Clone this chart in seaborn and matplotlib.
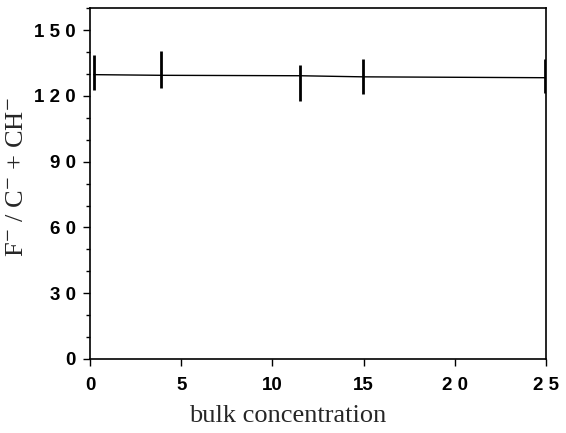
import numpy as np
import pandas as pd
import seaborn as sns
import matplotlib.pyplot as plt
from matplotlib.ticker import MultipleLocator

# values
conc = [0.2, 3.9, 11.5, 14.95, 24.95]
ratio = [129.7, 129.4, 129.2, 128.7, 128.3]
err_low = [6.9, 5.7, 11.5, 7.9, 6.9]
err_high = [8.8, 11.0, 4.8, 8.3, 8.7]

x_ticks = [0, 5, 10, 15, 20, 25]
x_labels = ["0", "5", "10", "15", "2 0", "2 5"]
y_ticks = [0, 30, 60, 90, 120, 150]
y_labels = ["0", "3 0", "6 0", "9 0", "1 2 0", "1 5 0"]


def set_config():
    sns.set_theme(style="ticks")
    plt.rcParams["font.family"] = ["Liberation Serif", "DejaVu Serif"]
    plt.rcParams["mathtext.fontset"] = "stix"
    plt.rcParams["text.color"] = "black"
    plt.rcParams["xtick.color"] = "black"
    plt.rcParams["ytick.color"] = "black"


def show_ratio_graph():
    df = pd.DataFrame({"conc": conc, "ratio": ratio})

    fig = plt.figure(figsize=(5.66, 4.33), dpi=100)
    ax = fig.add_axes([0.159, 0.171, 0.806, 0.81])

    sns.lineplot(x="conc", y="ratio", data=df, ax=ax, color="black", linewidth=1.0)
    ax.errorbar(conc, ratio, yerr=[err_low, err_high], fmt="none",
                ecolor="black", elinewidth=2.0, capsize=0)

    ax.set_xlim(0, 25)
    ax.set_ylim(0, 160)
    ax.set_xticks(x_ticks)
    ax.set_yticks(y_ticks)
    ax.yaxis.set_minor_locator(MultipleLocator(10))
    ax.set_xticklabels(x_labels, family="Liberation Sans",
                       fontweight="bold", fontsize=13.5)
    ax.set_yticklabels(y_labels, family="Liberation Sans",
                       fontweight="bold", fontsize=13.5)
    ax.tick_params(axis="both", which="major", length=5, width=1)
    ax.tick_params(axis="x", which="major", pad=8)
    ax.tick_params(axis="y", which="major", pad=5)
    ax.tick_params(axis="y", which="minor", length=3, width=1)

    for s in ax.spines.values():
        s.set_color("black")
        s.set_linewidth(1.2)

    ax.set_xlabel("bulk concentration", fontsize=19)
    ax.xaxis.set_label_coords(0.434, -0.13)
    ax.set_ylabel("F$^{-}$ / C$^{-}$ + CH$^{-}$", fontsize=19)
    ax.yaxis.set_label_coords(-0.136, 0.52)

    fig.savefig("out.png", dpi=100)


def main():
    set_config()
    show_ratio_graph()


if __name__ == "__main__":
    main()
